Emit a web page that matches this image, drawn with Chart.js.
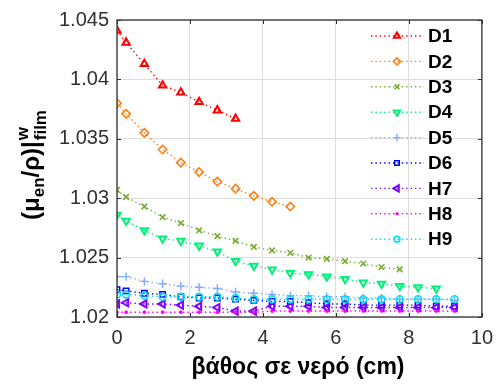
<!DOCTYPE html>
<html>
<head>
<meta charset="utf-8">
<script src="https://cdn.jsdelivr.net/npm/chart.js@4/dist/chart.umd.min.js"></script>
<style>
html,body{margin:0;padding:0;background:#fff;}
#wrap{width:502px;height:385px;position:relative;}
</style>
</head>
<body>
<div id="wrap"><canvas id="c" width="502" height="385"></canvas></div>
<script>
// ---- data ----
const depths = [0, 0.25, 0.75, 1.25, 1.75, 2.25, 2.75, 3.25, 3.75, 4.25, 4.75, 5.25, 5.75, 6.25, 6.75, 7.25, 7.75, 8.25, 8.75, 9.25];
const seriesNames = ['D1', 'D2', 'D3', 'D4', 'D5', 'D6', 'H7', 'H8', 'H9'];
const D1 = [1.0441, 1.0431, 1.0413, 1.0395, 1.0389, 1.0381, 1.0374, 1.0367];
const D2 = [1.0380, 1.0371, 1.0355, 1.0341, 1.0330, 1.0322, 1.0314, 1.0308, 1.0302, 1.0297, 1.0293];
const D3 = [1.0307, 1.0301, 1.0293, 1.0284, 1.0279, 1.0273, 1.0268, 1.0264, 1.0259, 1.0256, 1.0254, 1.0250, 1.0249, 1.0247, 1.0245, 1.0242, 1.0240];
const D4 = [1.0286, 1.0281, 1.0273, 1.0266, 1.0264, 1.0260, 1.0255, 1.0247, 1.0243, 1.0240, 1.0237, 1.0236, 1.0234, 1.0232, 1.0229, 1.0228, 1.0226, 1.0225, 1.0224];
const D5 = [1.0234, 1.0234, 1.0230, 1.0228, 1.0226, 1.0225, 1.0224, 1.0221, 1.0220, 1.0219, 1.0218, 1.0218, 1.0217, 1.0217, 1.0216, 1.0216, 1.0215, 1.0215, 1.0215, 1.0214];
const D6 = [1.0223, 1.0222, 1.0220, 1.0219, 1.0217, 1.0216, 1.0216, 1.0215, 1.0214, 1.0213, 1.0213, 1.0212, 1.0211, 1.0211, 1.0210, 1.0210, 1.0210, 1.0210, 1.0209, 1.0209];
const H7 = [1.0211, 1.0212, 1.0211, 1.0211, 1.0210, 1.0209, 1.0208, 1.0205, 1.0205, 1.0209, 1.0209, 1.0209, 1.0208, 1.0208, 1.0208, 1.0208, 1.0208, 1.0208, 1.0208, 1.0208];
const H8 = [1.0204, 1.0204, 1.0204, 1.0204, 1.0204, 1.0204, 1.0204, 1.0204, 1.0204, 1.0205, 1.0205, 1.0205, 1.0205, 1.0205, 1.0205, 1.0205, 1.0205, 1.0205, 1.0205, 1.0205];
const H9 = [1.0219, 1.0219, 1.0218, 1.0217, 1.0217, 1.0217, 1.0217, 1.0216, 1.0215, 1.0215, 1.0215, 1.0215, 1.0215, 1.0215, 1.0215, 1.0215, 1.0215, 1.0215, 1.0215, 1.0215];
const xTicks = [0, 2, 4, 6, 8, 10];
const yTicks = [1.02, 1.025, 1.03, 1.035, 1.04, 1.045];
const xTitle = 'βάθος σε νερό (cm)';
const yTitleParts = { open: '(μ', sub1: 'en', mid: '/ρ)|', sup: 'w', sub2: 'film' };

// ---- styles ----
const allValues = [D1, D2, D3, D4, D5, D6, H7, H8, H9];
const colors = ['#ff0000', '#ff7f0e', '#77ac30', '#00f07a', '#80aaff', '#0000ff', '#7f00ff', '#ff00ff', '#00e0f0'];
const styles = [
  { pointStyle: 'triangle', rotation: 0, radius: 4.2, bw: 2 },
  { pointStyle: 'rectRot', rotation: 0, radius: 4.2, bw: 1.6 },
  { pointStyle: 'crossRot', rotation: 0, radius: 4, bw: 1.6 },
  { pointStyle: 'triangle', rotation: 180, radius: 4.2, bw: 2 },
  { pointStyle: 'cross', rotation: 0, radius: 4.2, bw: 1.4 },
  { pointStyle: 'rect', rotation: 0, radius: 3.8, bw: 1.5 },
  { pointStyle: 'triangle', rotation: 270, radius: 4.2, bw: 2 },
  { pointStyle: 'circle', rotation: 0, radius: 1.4, bw: 1, fill: true },
  { pointStyle: 'circle', rotation: 0, radius: 3.4, bw: 1.6 }
];

const datasets = allValues.map((vals, i) => ({
  label: seriesNames[i],
  data: vals.map((v, j) => ({ x: depths[j], y: v })),
  showLine: true,
  borderColor: colors[i],
  borderWidth: 1.4,
  borderDash: [1.4, 3],
  pointStyle: styles[i].pointStyle,
  rotation: styles[i].rotation,
  pointRadius: styles[i].radius,
  pointBorderWidth: styles[i].bw,
  pointBorderColor: colors[i],
  pointBackgroundColor: styles[i].fill ? colors[i] : 'rgba(0,0,0,0)',
  order: 8 - i
}));

const AX = '#303030';
const FAM = '"Liberation Sans", Arial, sans-serif';

const decor = {
  id: 'decor',
  afterDraw(chart) {
    const ctx = chart.ctx;
    const a = chart.chartArea;
    const xs = chart.scales.x, ys = chart.scales.y;
    ctx.save();
    // box
    ctx.strokeStyle = AX;
    ctx.lineWidth = 1.3;
    ctx.strokeRect(a.left, a.top, a.right - a.left, a.bottom - a.top);
    // inward ticks
    ctx.lineWidth = 1;
    const tl = 4;
    xTicks.forEach(v => {
      const px = Math.round(xs.getPixelForValue(v)) + 0.5;
      ctx.beginPath();
      ctx.moveTo(px, a.bottom); ctx.lineTo(px, a.bottom - tl);
      ctx.moveTo(px, a.top); ctx.lineTo(px, a.top + tl);
      ctx.stroke();
    });
    yTicks.forEach(v => {
      const py = Math.round(ys.getPixelForValue(v)) + 0.5;
      ctx.beginPath();
      ctx.moveTo(a.left, py); ctx.lineTo(a.left + tl, py);
      ctx.moveTo(a.right, py); ctx.lineTo(a.right - tl, py);
      ctx.stroke();
    });
    // x title
    ctx.fillStyle = '#000';
    ctx.font = 'bold 23px ' + FAM;
    ctx.textAlign = 'center';
    ctx.textBaseline = 'middle';
    ctx.fillText(xTitle, 298, 368);

    // y title (rotated, with sub/superscripts)
    const mainF = 'bold 24px ' + FAM;
    const smallF = 'bold 17px ' + FAM;
    ctx.textBaseline = 'alphabetic';
    ctx.textAlign = 'left';
    ctx.font = mainF; const w1 = ctx.measureText(yTitleParts.open).width;
    ctx.font = smallF; const w2 = ctx.measureText(yTitleParts.sub1).width;
    ctx.font = mainF; const w3 = ctx.measureText(yTitleParts.mid).width;
    ctx.font = smallF; const w4 = Math.max(ctx.measureText(yTitleParts.sup).width, ctx.measureText(yTitleParts.sub2).width);
    const total = w1 + w2 + w3 + w4 + 1;
    ctx.translate(39, 165);
    ctx.rotate(-Math.PI / 2);
    let x = -total / 2;
    ctx.font = mainF; ctx.fillText(yTitleParts.open, x, 0); x += w1;
    ctx.font = smallF; ctx.fillText(yTitleParts.sub1, x, 5); x += w2;
    ctx.font = mainF; ctx.fillText(yTitleParts.mid, x, 0); x += w3 + 1;
    ctx.font = smallF; ctx.fillText(yTitleParts.sup, x, -11); ctx.fillText(yTitleParts.sub2, x, 7);
    ctx.restore();

    // legend
    ctx.save();
    const lx0 = 371, lx1 = 424, mx = 397, tx = 428, ly0 = 36, dy = 25.4;
    chart.data.datasets.forEach((ds, i) => {
      const y = ly0 + i * dy;
      ctx.strokeStyle = ds.borderColor;
      ctx.lineWidth = ds.borderWidth;
      ctx.setLineDash(ds.borderDash);
      ctx.beginPath();
      ctx.moveTo(lx0, y); ctx.lineTo(lx1, y);
      ctx.stroke();
      ctx.setLineDash([]);
      ctx.strokeStyle = ds.pointBorderColor;
      ctx.fillStyle = ds.pointBackgroundColor;
      ctx.lineWidth = ds.pointBorderWidth;
      Chart.helpers.drawPoint(ctx, { pointStyle: ds.pointStyle, rotation: ds.rotation, radius: ds.pointRadius * 0.85, borderWidth: ds.pointBorderWidth }, mx, y);
      ctx.fillStyle = '#000';
      ctx.font = 'bold 19px ' + FAM;
      ctx.textAlign = 'left';
      ctx.textBaseline = 'middle';
      ctx.fillText(ds.label, tx, y + 1);
    });
    ctx.restore();
  }
};

new Chart(document.getElementById('c'), {
  type: 'scatter',
  data: { datasets },
  options: {
    responsive: false,
    animation: false,
    devicePixelRatio: 1,
    layout: { padding: { top: 13, right: 14, left: 0, bottom: 0 } },
    plugins: { legend: { display: false }, tooltip: { enabled: false } },
    scales: {
      x: {
        type: 'linear', min: 0, max: 10,
        afterBuildTicks: s => { s.ticks = xTicks.map(v => ({ value: v })); },
        afterFit: s => { s.height = 68; },
        border: { display: false },
        grid: { color: '#dedede', lineWidth: 1, drawTicks: false },
        ticks: { color: AX, font: { size: 20, family: FAM }, padding: 9, maxRotation: 0, autoSkip: false }
      },
      y: {
        type: 'linear', min: 1.02, max: 1.045,
        afterBuildTicks: s => { s.ticks = yTicks.map(v => ({ value: v })); },
        afterFit: s => { s.width = 117; },
        border: { display: false },
        grid: { color: '#dedede', lineWidth: 1, drawTicks: false },
        ticks: { color: AX, font: { size: 20, family: FAM }, padding: 8, autoSkip: false,
          callback: v => String(parseFloat(Number(v).toFixed(3))) }
      }
    }
  },
  plugins: [decor]
});
</script>
</body>
</html>
